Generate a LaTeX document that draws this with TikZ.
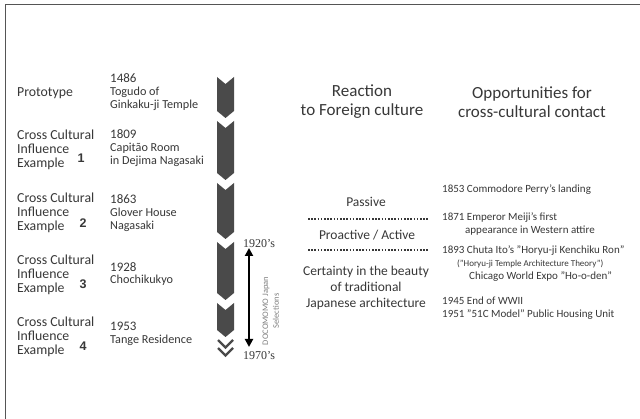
\documentclass[tikz,border=0pt]{standalone}
\usepackage{fontspec}
\setmainfont{Carlito}
\newfontfamily\numfont{Liberation Sans}
\newfontfamily\serfont{Liberation Serif}
\usetikzlibrary{arrows.meta}
\definecolor{chevgray}{HTML}{4A4A4A}
\definecolor{txt}{HTML}{383838}
\definecolor{framegray}{HTML}{555555}
\newcommand\mychev[2]{\fill[chevgray] (217,#1) -- (225.5,#1+7) -- (234,#1) -- (234,#2-7) -- (225.5,#2) -- (217,#2-7) -- cycle;}
\tikzset{
  lbl/.style={anchor=west, align=left, inner sep=0pt, text=txt, font=\fontsize{13.8}{14}\selectfont},
  yr/.style={anchor=west, align=left, inner sep=0pt, text=txt, font=\fontsize{12.2}{12.8}\selectfont},
  num/.style={anchor=center, inner sep=0pt, text=txt, font=\numfont\bfseries\fontsize{12.5}{12}\selectfont},
  head/.style={anchor=center, align=center, inner sep=0pt, text=txt, font=\fontsize{17}{19}\selectfont},
  mid/.style={anchor=center, align=center, inner sep=0pt, text=txt, font=\fontsize{13.5}{16}\selectfont},
  opp/.style={anchor=west, inner sep=0pt, text=txt, font=\fontsize{11}{13}\selectfont},
  dotline/.style={draw=txt, line width=1.1pt, dash pattern=on 1.6pt off 1.6pt},
  decade/.style={anchor=center, inner sep=0pt, text=txt, font=\serfont\fontsize{12}{12}\selectfont},
  docom/.style={anchor=center, inner sep=0pt, text=gray, rotate=90, font=\fontsize{8.5}{9.5}\selectfont},
}
\begin{document}
\begin{tikzpicture}[x=1pt,y=-1pt]
\useasboundingbox (0,0) rectangle (640,419);
\fill[white] (0,0) rectangle (640,419);
% frame
\coordinate (fb) at (5,419);
\coordinate (fc) at (5,5);
\coordinate (fr) at (640,5);
\draw[framegray, line width=1pt] (fb) -- (fc) -- (fr);

% chevrons
\mychev{77}{118}
\mychev{121}{180}
\mychev{183}{239}
\mychev{242}{300}
\mychev{303}{337}
\coordinate (v1l) at (218,340); \coordinate (v1m) at (225.5,347.5); \coordinate (v1r) at (233,340);
\coordinate (v2l) at (218,348); \coordinate (v2m) at (225.5,355.5); \coordinate (v2r) at (233,348);
\draw[chevgray, line width=2.3pt] (v1l) -- (v1m) -- (v1r);
\draw[chevgray, line width=2.3pt] (v2l) -- (v2m) -- (v2r);

% left labels
\node[lbl] (proto) at (17,93) {Prototype};
\node[lbl] (ex1) at (17,150) {Cross Cultural\\Influence\\Example};
\node[lbl] (ex2) at (17,213) {Cross Cultural\\Influence\\Example};
\node[lbl] (ex3) at (17,275) {Cross Cultural\\Influence\\Example};
\node[lbl] (ex4) at (17,337) {Cross Cultural\\Influence\\Example};
\node[num] (n1) at (81,158) {1};
\node[num] (n2) at (83,223) {2};
\node[num] (n3) at (83,284) {3};
\node[num] (n4) at (83,346) {4};

% year blocks
\node[yr] (y1486) at (110,92) {{\fontsize{13}{12.8}\selectfont 1486}\\Togudo of\\Ginkaku-ji Temple};
\node[yr] (y1809) at (110,148) {{\fontsize{13}{12.8}\selectfont 1809}\\Capitão Room\\in Dejima Nagasaki};
\node[yr] (y1863) at (110,213) {{\fontsize{13}{12.8}\selectfont 1863}\\Glover House\\Nagasaki};
\node[yr] (y1928) at (110,274) {{\fontsize{13}{12.8}\selectfont 1928}\\Chochikukyo};
\node[yr] (y1953) at (110,334) {{\fontsize{13}{12.8}\selectfont 1953}\\Tange Residence};

% DOCOMOMO arrow
\node[decade] (d1920) at (259,244) {1920’s};
\node[decade] (d1970) at (259,356) {1970’s};
\coordinate (at) at (249,248);
\coordinate (ab) at (249,347);
\draw[black, line width=2.6pt, {Triangle[length=8pt,width=8pt]}-{Triangle[length=8pt,width=8pt]}] (at) -- (ab);
\node[docom] (doc1) at (266,311) {DOCOMOMO Japan};
\node[docom] (doc2) at (276,311) {Selections};

% headers
\node[head] (reac) at (362,102) {Reaction\\to Foreign culture};
\node[head] (oppo) at (532,102) {Opportunities for\\cross-cultural contact};

% middle column
\node[mid] (pass) at (366,202) {Passive};
\coordinate (dl1) at (308,219); \coordinate (dr1) at (428,219);
\draw[dotline] (dl1) -- (dr1);
\node[mid] (proa) at (367,235) {Proactive / Active};
\coordinate (dl2) at (308,250); \coordinate (dr2) at (428,250);
\draw[dotline] (dl2) -- (dr2);
\node[mid] (cert) at (366,288) {Certainty in the beauty\\of traditional\\Japanese architecture};

% right column
\node[opp] (o1853) at (442,190) {1853 Commodore Perry’s landing};
\node[opp] (o1871) at (442,218) {1871 Emperor Meiji’s first};
\node[opp] (o1871b) at (465,231) {appearance in Western attire};
\node[opp] (o1893) at (442,251) {1893 Chuta Ito’s "Horyu-ji Kenchiku Ron"};
\node[opp, font=\fontsize{9}{10}\selectfont] (o1893b) at (457,264) {("Horyu-ji Temple Architecture Theory")};
\node[opp] (o1893c) at (469,277) {Chicago World Expo "Ho-o-den"};
\node[opp] (o1945) at (442,301) {1945 End of WWII};
\node[opp] (o1951) at (442,315) {1951 "51C Model" Public Housing Unit};
\end{tikzpicture}
\end{document}
